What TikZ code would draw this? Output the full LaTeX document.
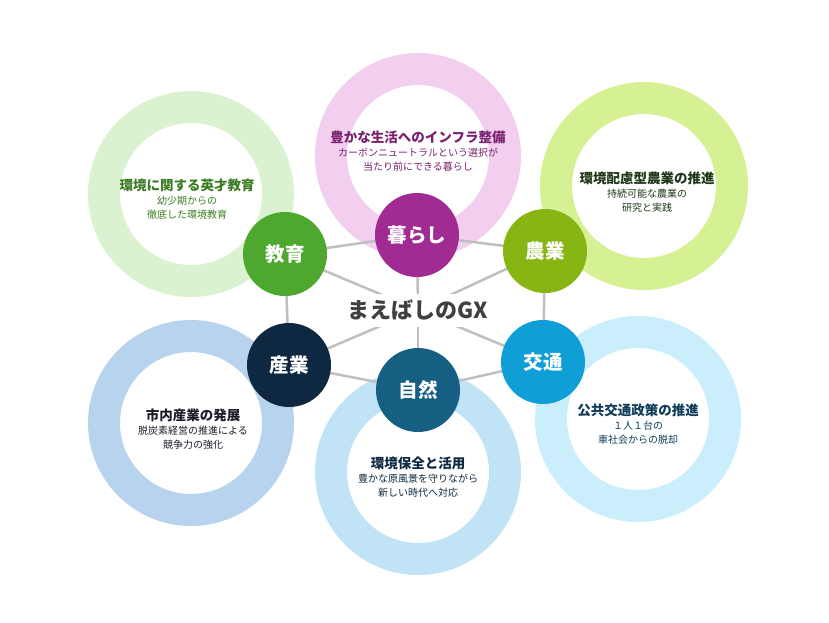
\documentclass[tikz,border=0pt]{standalone}
\usepackage{fontspec}
\setmainfont{Noto Sans CJK JP}
\pgfdeclarelayer{rings}
\pgfdeclarelayer{lines}
\pgfsetlayers{rings,lines,main}
\definecolor{lineGray}{HTML}{BFBFBF}
\definecolor{kurashiC}{HTML}{A02B93}
\definecolor{kurashiR}{HTML}{F2CEEF}
\definecolor{kurashiT}{HTML}{7A2170}
\definecolor{kyoikuC}{HTML}{4EA72E}
\definecolor{kyoikuR}{HTML}{DAF2D0}
\definecolor{kyoikuT}{HTML}{3B7D23}
\definecolor{nogyoC}{HTML}{86B514}
\definecolor{nogyoR}{HTML}{D5F193}
\definecolor{nogyoT}{HTML}{1F3818}
\definecolor{sangyoC}{HTML}{0E2841}
\definecolor{sangyoR}{HTML}{B8D3EE}
\definecolor{sangyoT}{HTML}{1C1C2A}
\definecolor{shizenC}{HTML}{155F82}
\definecolor{shizenR}{HTML}{C0E4F5}
\definecolor{shizenT}{HTML}{0E2841}
\definecolor{kotsuC}{HTML}{0F9ED5}
\definecolor{kotsuR}{HTML}{CAEEFB}
\definecolor{kotsuT}{HTML}{0E3C59}
\definecolor{gxT}{HTML}{404040}
\begin{document}
\begin{tikzpicture}[x=1pt,y=-1pt,
  ringband/.style={line width=32pt},
  hub/.style={circle, minimum size=84pt, inner sep=0pt, text=white,
    font=\fontsize{19.5}{22}\selectfont\bfseries},
  link/.style={draw=lineGray, line width=2.5pt},
  caption/.style={align=center, inner sep=0pt,
    font=\fontsize{10}{14}\selectfont},
  capttl/.style={}]
\useasboundingbox (0,0) rectangle (829,622);

% rings
\begin{pgfonlayer}{rings}
\draw[ringband, draw=kurashiR] (418,156) circle[radius=87pt];
\draw[ringband, draw=kyoikuR] (191,194) circle[radius=87pt];
\draw[ringband, draw=nogyoR] (644,186) circle[radius=88pt];
\draw[ringband, draw=sangyoR] (191,423) circle[radius=87pt];
\draw[ringband, draw=shizenR] (418,472) circle[radius=87pt];
\draw[ringband, draw=kotsuR] (638,419) circle[radius=87pt];
\end{pgfonlayer}

% hubs
\node[hub, fill=kurashiC] (kurashi) at (417,235) {暮らし};
\node[hub, fill=kyoikuC] (kyoiku) at (285,254) {教育};
\node[hub, fill=nogyoC] (nogyo) at (545,251) {農業};
\node[hub, fill=sangyoC] (sangyo) at (289,365) {産業};
\node[hub, fill=shizenC] (shizen) at (418,390) {自然};
\node[hub, fill=kotsuC] (kotsu) at (543,362) {交通};

% centre label
\coordinate (gx) at (418,310);
\node[fill=white, inner xsep=5pt, inner ysep=0pt, minimum height=33pt,
  text=gxT, font=\fontsize{22}{24}\selectfont\bfseries] (gxlabel) at (gx) {まえばしのGX};

% connectors
\begin{pgfonlayer}{lines}
\draw[link] (kyoiku.center) -- (kurashi.center) -- (nogyo.center) -- (kotsu.center)
  -- (shizen.center) -- (sangyo.center) -- (kyoiku.center);
\foreach \n in {kurashi,kyoiku,nogyo,sangyo,shizen,kotsu}
  \draw[link] (\n.center) -- (gx);
\end{pgfonlayer}

% captions
\node[caption, text=kurashiT] (kurashiCap) at (418,151)
  {{\fontsize{13.5}{14}\selectfont\bfseries 豊かな生活へのインフラ整備}\\
   カーボンニュートラルという選択が\\当たり前にできる暮らし};
\node[caption, text=kyoikuT] (kyoikuCap) at (187,199)
  {{\fontsize{13.5}{14}\selectfont\bfseries 環境に関する英才教育}\\
   幼少期からの\\徹底した環境教育};
\node[caption, text=nogyoT] (nogyoCap) at (647,192)
  {{\fontsize{13.5}{14}\selectfont\bfseries 環境配慮型農業の推進}\\
   持続可能な農業の\\研究と実践};
\node[caption, text=sangyoT] (sangyoCap) at (193,429)
  {{\fontsize{13.5}{14}\selectfont\bfseries 市内産業の発展}\\
   脱炭素経営の推進による\\競争力の強化};
\node[caption, text=shizenT] (shizenCap) at (418,477)
  {{\fontsize{13.5}{14}\selectfont\bfseries 環境保全と活用}\\
   豊かな原風景を守りながら\\新しい時代へ対応};
\node[caption, text=kotsuT] (kotsuCap) at (638,424)
  {{\fontsize{13.5}{14}\selectfont\bfseries 公共交通政策の推進}\\
   １人１台の\\車社会からの脱却};
\end{tikzpicture}
\end{document}
